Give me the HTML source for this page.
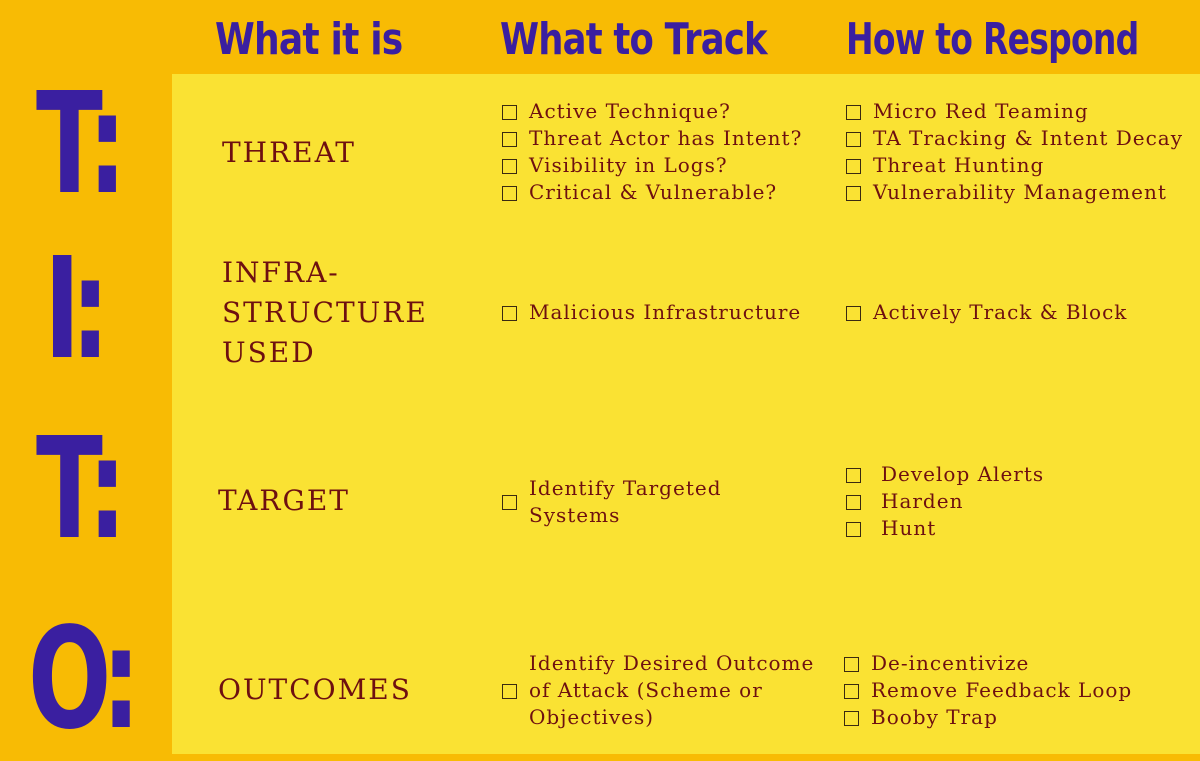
<!DOCTYPE html>
<html><head><meta charset="utf-8"><style>
body{margin:0;width:1200px;height:754px;background:#F8BB04;position:relative;overflow:hidden;font-family:"DejaVu Serif","Liberation Serif",serif;color:#6E1010}
#panel{position:absolute;left:172px;top:74px;width:1028px;height:680px;background:#FAE233}
.h{position:absolute;top:10px;font-family:"DejaVu Sans","Liberation Sans",sans-serif;font-weight:bold;color:#3A1FA0;font-size:44px;letter-spacing:-1px;line-height:60px;transform:scaleX(0.82);transform-origin:left;white-space:nowrap}
.big{position:absolute;left:36px;font-family:"DejaVu Sans",sans-serif;font-weight:bold;color:#3A1FA0;font-size:140px;line-height:140px;letter-spacing:-14px;transform:scaleX(0.7);transform-origin:left;white-space:nowrap}
.lab{position:absolute;left:222px;font-size:28px;line-height:40px;letter-spacing:2px;white-space:nowrap}
.l{position:absolute;font-size:20px;line-height:27px;white-space:nowrap;height:27px;letter-spacing:1px}
.l i{display:inline-block;width:15px;height:15px;border:1.5px solid #3a2a10;box-sizing:border-box;position:absolute;left:-27px;top:7px}
</style></head><body>
<div id="panel"></div>
<div class="h" style="left:215px">What it is</div>
<div class="h" style="left:500px;transform:scaleX(0.805)">What to Track</div>
<div class="h" style="left:846px;transform:scaleX(0.75)">How to Respond</div>
<div class="big" style="top:75px">T:</div>
<div class="big" style="top:240px;left:44px">I:</div>
<div class="big" style="top:420px">T:</div>
<div class="big" style="top:610px;left:28px">O:</div>
<div class="lab" style="top:133px">THREAT</div>
<div class="lab" style="top:253px">INFRA-<br>STRUCTURE<br>USED</div>
<div class="lab" style="left:218px;top:481px">TARGET</div>
<div class="lab" style="left:218px;top:670px">OUTCOMES</div>

<div class="l" style="left:529px;top:98px"><i></i>Active Technique?</div>
<div class="l" style="left:529px;top:125px"><i></i>Threat Actor has Intent?</div>
<div class="l" style="left:529px;top:152px"><i></i>Visibility in Logs?</div>
<div class="l" style="left:529px;top:179px"><i></i>Critical &amp; Vulnerable?</div>
<div class="l" style="left:873px;top:98px"><i></i>Micro Red Teaming</div>
<div class="l" style="left:873px;top:125px"><i></i>TA Tracking &amp; Intent Decay</div>
<div class="l" style="left:873px;top:152px"><i></i>Threat Hunting</div>
<div class="l" style="left:873px;top:179px"><i></i>Vulnerability Management</div>

<div class="l" style="left:529px;top:299px"><i></i>Malicious Infrastructure</div>
<div class="l" style="left:873px;top:299px"><i></i>Actively Track &amp; Block</div>

<div class="l" style="left:529px;top:475px">Identify Targeted<br>Systems</div>
<div class="l" style="left:529px;top:488px"><i></i></div>
<div class="l" style="left:881px;top:461px"><i style="left:-35px"></i>Develop Alerts</div>
<div class="l" style="left:881px;top:488px"><i style="left:-35px"></i>Harden</div>
<div class="l" style="left:881px;top:515px"><i style="left:-35px"></i>Hunt</div>

<div class="l" style="left:529px;top:650px">Identify Desired Outcome<br>of Attack (Scheme or<br>Objectives)</div>
<div class="l" style="left:529px;top:677px"><i></i></div>
<div class="l" style="left:871px;top:650px"><i></i>De-incentivize</div>
<div class="l" style="left:871px;top:677px"><i></i>Remove Feedback Loop</div>
<div class="l" style="left:871px;top:704px"><i></i>Booby Trap</div>
</body></html>
